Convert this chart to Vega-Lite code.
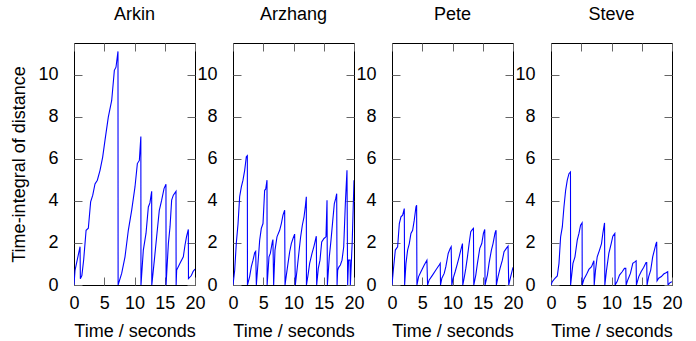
{
  "$schema": "https://vega.github.io/schema/vega-lite/v6.json",
  "padding": {"left": 10, "top": 5, "right": 5, "bottom": 5},
  "background": "white",
  "datasets": {
    "Arkin": [
      {"t":0,"v":0},{"t":0.17,"v":0.7},{"t":1.0,"v":1.82},{"t":1.05,"v":0.3},{"t":1.3,"v":0.45},{"t":1.6,"v":1.2},{"t":2.0,"v":2.6},{"t":2.37,"v":2.7},{"t":2.75,"v":3.95},{"t":3.1,"v":4.27},{"t":3.47,"v":4.8},{"t":3.86,"v":4.98},{"t":4.3,"v":5.45},{"t":4.74,"v":6.08},{"t":5.12,"v":6.87},{"t":5.67,"v":7.98},{"t":6.23,"v":8.77},{"t":6.67,"v":10.2},{"t":6.94,"v":10.35},{"t":7.27,"v":11.1},{"t":7.29,"v":0},{"t":7.88,"v":0.55},{"t":8.43,"v":1.34},{"t":8.98,"v":2.6},{"t":9.53,"v":3.55},{"t":10.08,"v":4.66},{"t":10.47,"v":5.77},{"t":10.8,"v":5.92},{"t":11.05,"v":7.06},{"t":11.07,"v":0},{"t":11.46,"v":1.66},{"t":11.9,"v":2.45},{"t":12.29,"v":3.71},{"t":12.55,"v":3.9},{"t":12.84,"v":4.45},{"t":12.86,"v":0},{"t":13.28,"v":1.18},{"t":13.66,"v":2.29},{"t":14.1,"v":3.55},{"t":14.49,"v":4.03},{"t":14.88,"v":4.58},{"t":15.2,"v":4.79},{"t":15.22,"v":0},{"t":15.35,"v":0.7},{"t":15.6,"v":1.97},{"t":15.87,"v":2.76},{"t":16.14,"v":4.03},{"t":16.42,"v":4.27},{"t":16.86,"v":4.45},{"t":16.88,"v":0},{"t":16.97,"v":0.71},{"t":17.52,"v":1.03},{"t":18.07,"v":1.34},{"t":18.35,"v":1.9},{"t":18.6,"v":2.3},{"t":18.9,"v":2.64},{"t":18.92,"v":0.3},{"t":19.4,"v":0.45},{"t":19.7,"v":0.65},{"t":20,"v":0.76}
    ],
    "Arzhang": [
      {"t":0,"v":0},{"t":0.28,"v":0.7},{"t":0.55,"v":2.0},{"t":0.83,"v":2.9},{"t":1.1,"v":4.2},{"t":1.38,"v":4.66},{"t":1.65,"v":4.98},{"t":1.93,"v":5.45},{"t":2.2,"v":6.1},{"t":2.37,"v":6.15},{"t":2.39,"v":0},{"t":2.75,"v":0.4},{"t":3.03,"v":0.87},{"t":3.31,"v":1.18},{"t":3.58,"v":1.53},{"t":3.75,"v":1.6},{"t":3.86,"v":0},{"t":4.13,"v":1.03},{"t":4.41,"v":2.13},{"t":4.68,"v":2.69},{"t":4.96,"v":2.92},{"t":5.23,"v":4.5},{"t":5.4,"v":4.55},{"t":5.62,"v":4.98},{"t":5.64,"v":0},{"t":5.95,"v":1.34},{"t":6.17,"v":1.5},{"t":6.5,"v":2.05},{"t":6.6,"v":2.16},{"t":6.72,"v":0},{"t":6.94,"v":1.66},{"t":7.27,"v":2.29},{"t":7.71,"v":2.6},{"t":7.99,"v":2.92},{"t":8.26,"v":3.32},{"t":8.54,"v":3.55},{"t":8.6,"v":0},{"t":8.82,"v":0.47},{"t":9.09,"v":1.03},{"t":9.37,"v":1.58},{"t":9.64,"v":1.97},{"t":9.92,"v":2.21},{"t":10.19,"v":2.42},{"t":10.3,"v":0},{"t":10.58,"v":0.7},{"t":10.91,"v":1.58},{"t":11.18,"v":2.29},{"t":11.46,"v":2.84},{"t":11.74,"v":3.24},{"t":11.96,"v":3.74},{"t":12.12,"v":4.19},{"t":12.14,"v":0},{"t":12.4,"v":0.47},{"t":12.67,"v":1.03},{"t":13.06,"v":1.5},{"t":13.39,"v":1.85},{"t":13.77,"v":2.32},{"t":13.83,"v":0},{"t":14.1,"v":0.79},{"t":14.38,"v":1.18},{"t":14.66,"v":2.05},{"t":15.04,"v":2.21},{"t":15.37,"v":2.29},{"t":15.54,"v":4.03},{"t":15.6,"v":0},{"t":15.92,"v":1.34},{"t":16.2,"v":2.13},{"t":16.47,"v":3.0},{"t":16.75,"v":3.87},{"t":16.97,"v":4.1},{"t":17.14,"v":4.34},{"t":17.2,"v":0},{"t":17.3,"v":0.7},{"t":17.47,"v":0.84},{"t":17.75,"v":0.95},{"t":18.02,"v":1.18},{"t":18.3,"v":1.82},{"t":18.57,"v":3.87},{"t":18.84,"v":5.45},{"t":18.95,"v":0},{"t":19.1,"v":1.18},{"t":19.35,"v":1.18},{"t":19.4,"v":0},{"t":19.7,"v":2.0},{"t":20,"v":4.98}
    ],
    "Pete": [
      {"t":0,"v":0},{"t":0.22,"v":0.7},{"t":0.55,"v":1.66},{"t":0.93,"v":1.82},{"t":1.21,"v":2.92},{"t":1.48,"v":3.24},{"t":1.76,"v":3.32},{"t":2.03,"v":3.63},{"t":2.09,"v":0},{"t":2.31,"v":1.03},{"t":2.58,"v":1.66},{"t":2.86,"v":1.97},{"t":3.13,"v":2.45},{"t":3.41,"v":2.6},{"t":3.68,"v":3.08},{"t":3.96,"v":3.71},{"t":4.07,"v":3.79},{"t":4.12,"v":0},{"t":4.4,"v":0.4},{"t":4.78,"v":0.63},{"t":5.33,"v":0.95},{"t":5.77,"v":1.18},{"t":5.88,"v":0},{"t":6.15,"v":0.24},{"t":6.7,"v":0.47},{"t":7.25,"v":0.71},{"t":7.8,"v":0.95},{"t":7.97,"v":1.03},{"t":8.02,"v":0},{"t":8.24,"v":0.32},{"t":8.63,"v":0.55},{"t":8.9,"v":0.87},{"t":9.29,"v":1.5},{"t":9.62,"v":1.74},{"t":9.78,"v":1.82},{"t":9.89,"v":0},{"t":10.11,"v":0.32},{"t":10.44,"v":0.63},{"t":10.82,"v":1.03},{"t":11.1,"v":1.34},{"t":11.37,"v":1.66},{"t":11.65,"v":1.97},{"t":11.7,"v":0},{"t":11.92,"v":0.32},{"t":12.2,"v":0.79},{"t":12.47,"v":1.34},{"t":12.75,"v":1.97},{"t":13.02,"v":2.53},{"t":13.3,"v":2.64},{"t":13.46,"v":2.69},{"t":13.52,"v":0},{"t":13.85,"v":0.47},{"t":14.12,"v":1.03},{"t":14.51,"v":1.74},{"t":14.84,"v":1.97},{"t":15.11,"v":2.45},{"t":15.33,"v":2.64},{"t":15.38,"v":0},{"t":15.77,"v":0.47},{"t":16.04,"v":1.03},{"t":16.43,"v":1.66},{"t":16.7,"v":1.97},{"t":17.03,"v":2.48},{"t":17.2,"v":2.6},{"t":17.25,"v":0},{"t":17.53,"v":0.4},{"t":17.86,"v":0.79},{"t":18.24,"v":1.18},{"t":18.52,"v":1.58},{"t":18.9,"v":1.74},{"t":19.18,"v":1.85},{"t":19.29,"v":0},{"t":19.62,"v":0.4},{"t":20,"v":0.84}
    ],
    "Steve": [
      {"t":0,"v":0},{"t":0.22,"v":0.16},{"t":0.66,"v":0.32},{"t":1.04,"v":0.43},{"t":1.32,"v":1.03},{"t":1.59,"v":2.29},{"t":1.87,"v":2.76},{"t":2.14,"v":3.71},{"t":2.42,"v":4.5},{"t":2.69,"v":4.98},{"t":2.97,"v":5.29},{"t":3.22,"v":5.37},{"t":3.24,"v":0},{"t":3.63,"v":1.03},{"t":3.96,"v":1.34},{"t":4.34,"v":2.13},{"t":4.62,"v":2.45},{"t":4.89,"v":2.84},{"t":5.14,"v":2.95},{"t":5.16,"v":0},{"t":5.44,"v":0.27},{"t":5.82,"v":0.47},{"t":6.26,"v":0.74},{"t":6.7,"v":0.87},{"t":7.09,"v":1.15},{"t":7.14,"v":0},{"t":7.36,"v":0.71},{"t":7.64,"v":1.34},{"t":8.02,"v":1.66},{"t":8.35,"v":1.97},{"t":8.57,"v":2.45},{"t":8.85,"v":2.95},{"t":8.9,"v":0},{"t":9.18,"v":0.71},{"t":9.56,"v":1.5},{"t":9.95,"v":1.97},{"t":10.22,"v":2.32},{"t":10.55,"v":2.45},{"t":10.6,"v":0},{"t":10.93,"v":0.16},{"t":11.32,"v":0.47},{"t":11.76,"v":0.63},{"t":12.14,"v":0.79},{"t":12.36,"v":0.79},{"t":12.42,"v":0},{"t":12.69,"v":0.24},{"t":13.13,"v":0.55},{"t":13.52,"v":1.03},{"t":13.85,"v":1.1},{"t":14.07,"v":1.15},{"t":14.12,"v":0},{"t":14.51,"v":0.4},{"t":14.89,"v":0.63},{"t":15.33,"v":0.84},{"t":15.71,"v":1.07},{"t":15.82,"v":1.07},{"t":15.88,"v":0},{"t":16.15,"v":0.4},{"t":16.48,"v":0.71},{"t":16.81,"v":1.34},{"t":17.09,"v":1.66},{"t":17.36,"v":1.97},{"t":17.47,"v":2.05},{"t":17.53,"v":0.2},{"t":17.8,"v":0.32},{"t":18.24,"v":0.4},{"t":18.63,"v":0.52},{"t":19.01,"v":0.58},{"t":19.29,"v":0.63},{"t":19.34,"v":0},{"t":19.67,"v":0.11},{"t":20,"v":0.16}
    ]
  },
  "hconcat": [
    {
      "width": 121, "height": 242,
      "title": {"text": "Arkin"},
      "data": {"name": "Arkin"},
      "layer": [
        {"mark": {"type": "line", "color": "#0000ff", "strokeWidth": 1.1, "clip": true},
         "encoding": {
           "x": {"field": "t", "type": "quantitative", "scale": {"domain": [0, 20], "nice": false}, "axis": {"orient": "bottom", "values": [0, 5, 10, 15, 20], "title": "Time / seconds"}},
           "y": {"field": "v", "type": "quantitative", "scale": {"domain": [0, 11.5], "nice": false}, "axis": {"orient": "left", "values": [0, 2, 4, 6, 8, 10], "title": "Time-integral of distance"}}}},
        {"mark": {"type": "line", "opacity": 0},
         "encoding": {
           "x": {"field": "t", "type": "quantitative", "axis": {"orient": "top", "values": [0, 5, 10, 15, 20], "labels": false, "title": null}},
           "y": {"field": "v", "type": "quantitative", "axis": {"orient": "right", "values": [0, 2, 4, 6, 8, 10], "labels": false, "title": null}}}}
      ],
      "resolve": {"axis": {"x": "independent", "y": "independent"}}
    },
    {
      "width": 121, "height": 242,
      "title": {"text": "Arzhang"},
      "data": {"name": "Arzhang"},
      "layer": [
        {"mark": {"type": "line", "color": "#0000ff", "strokeWidth": 1.1, "clip": true},
         "encoding": {
           "x": {"field": "t", "type": "quantitative", "scale": {"domain": [0, 20], "nice": false}, "axis": {"orient": "bottom", "values": [0, 5, 10, 15, 20], "title": "Time / seconds"}},
           "y": {"field": "v", "type": "quantitative", "scale": {"domain": [0, 11.5], "nice": false}, "axis": {"orient": "left", "values": [0, 2, 4, 6, 8, 10], "title": null}}}},
        {"mark": {"type": "line", "opacity": 0},
         "encoding": {
           "x": {"field": "t", "type": "quantitative", "axis": {"orient": "top", "values": [0, 5, 10, 15, 20], "labels": false, "title": null}},
           "y": {"field": "v", "type": "quantitative", "axis": {"orient": "right", "values": [0, 2, 4, 6, 8, 10], "labels": false, "title": null}}}}
      ],
      "resolve": {"axis": {"x": "independent", "y": "independent"}}
    },
    {
      "width": 121, "height": 242,
      "title": {"text": "Pete"},
      "data": {"name": "Pete"},
      "layer": [
        {"mark": {"type": "line", "color": "#0000ff", "strokeWidth": 1.1, "clip": true},
         "encoding": {
           "x": {"field": "t", "type": "quantitative", "scale": {"domain": [0, 20], "nice": false}, "axis": {"orient": "bottom", "values": [0, 5, 10, 15, 20], "title": "Time / seconds"}},
           "y": {"field": "v", "type": "quantitative", "scale": {"domain": [0, 11.5], "nice": false}, "axis": {"orient": "left", "values": [0, 2, 4, 6, 8, 10], "title": null}}}},
        {"mark": {"type": "line", "opacity": 0},
         "encoding": {
           "x": {"field": "t", "type": "quantitative", "axis": {"orient": "top", "values": [0, 5, 10, 15, 20], "labels": false, "title": null}},
           "y": {"field": "v", "type": "quantitative", "axis": {"orient": "right", "values": [0, 2, 4, 6, 8, 10], "labels": false, "title": null}}}}
      ],
      "resolve": {"axis": {"x": "independent", "y": "independent"}}
    },
    {
      "width": 121, "height": 242,
      "title": {"text": "Steve"},
      "data": {"name": "Steve"},
      "layer": [
        {"mark": {"type": "line", "color": "#0000ff", "strokeWidth": 1.1, "clip": true},
         "encoding": {
           "x": {"field": "t", "type": "quantitative", "scale": {"domain": [0, 20], "nice": false}, "axis": {"orient": "bottom", "values": [0, 5, 10, 15, 20], "title": "Time / seconds"}},
           "y": {"field": "v", "type": "quantitative", "scale": {"domain": [0, 11.5], "nice": false}, "axis": {"orient": "left", "values": [0, 2, 4, 6, 8, 10], "title": null}}}},
        {"mark": {"type": "line", "opacity": 0},
         "encoding": {
           "x": {"field": "t", "type": "quantitative", "axis": {"orient": "top", "values": [0, 5, 10, 15, 20], "labels": false, "title": null}},
           "y": {"field": "v", "type": "quantitative", "axis": {"orient": "right", "values": [0, 2, 4, 6, 8, 10], "labels": false, "title": null}}}}
      ],
      "resolve": {"axis": {"x": "independent", "y": "independent"}}
    }
  ],
  "spacing": 38,
  "bounds": "flush",
  "config": {
    "font": "Liberation Sans",
    "view": {"stroke": "black", "strokeWidth": 1},
    "axis": {
      "domain": false, "grid": false, "labelFlush": false, "labelOverlap": false,
      "tickSize": -8, "tickColor": "#666666", "tickWidth": 1,
      "labelFont": "Liberation Sans", "labelFontSize": 18, "labelColor": "black", "labelPadding": 17,
      "titleFont": "Liberation Sans", "titleFontSize": 18, "titleFontWeight": "normal", "titleColor": "black", "titlePadding": 10
    },
    "axisLeft": {"labelPadding": 24, "titlePadding": 9},
    "title": {"font": "Liberation Sans", "fontSize": 18, "fontWeight": "normal", "color": "black", "frame": "group", "anchor": "middle", "offset": 19}
  }
}
